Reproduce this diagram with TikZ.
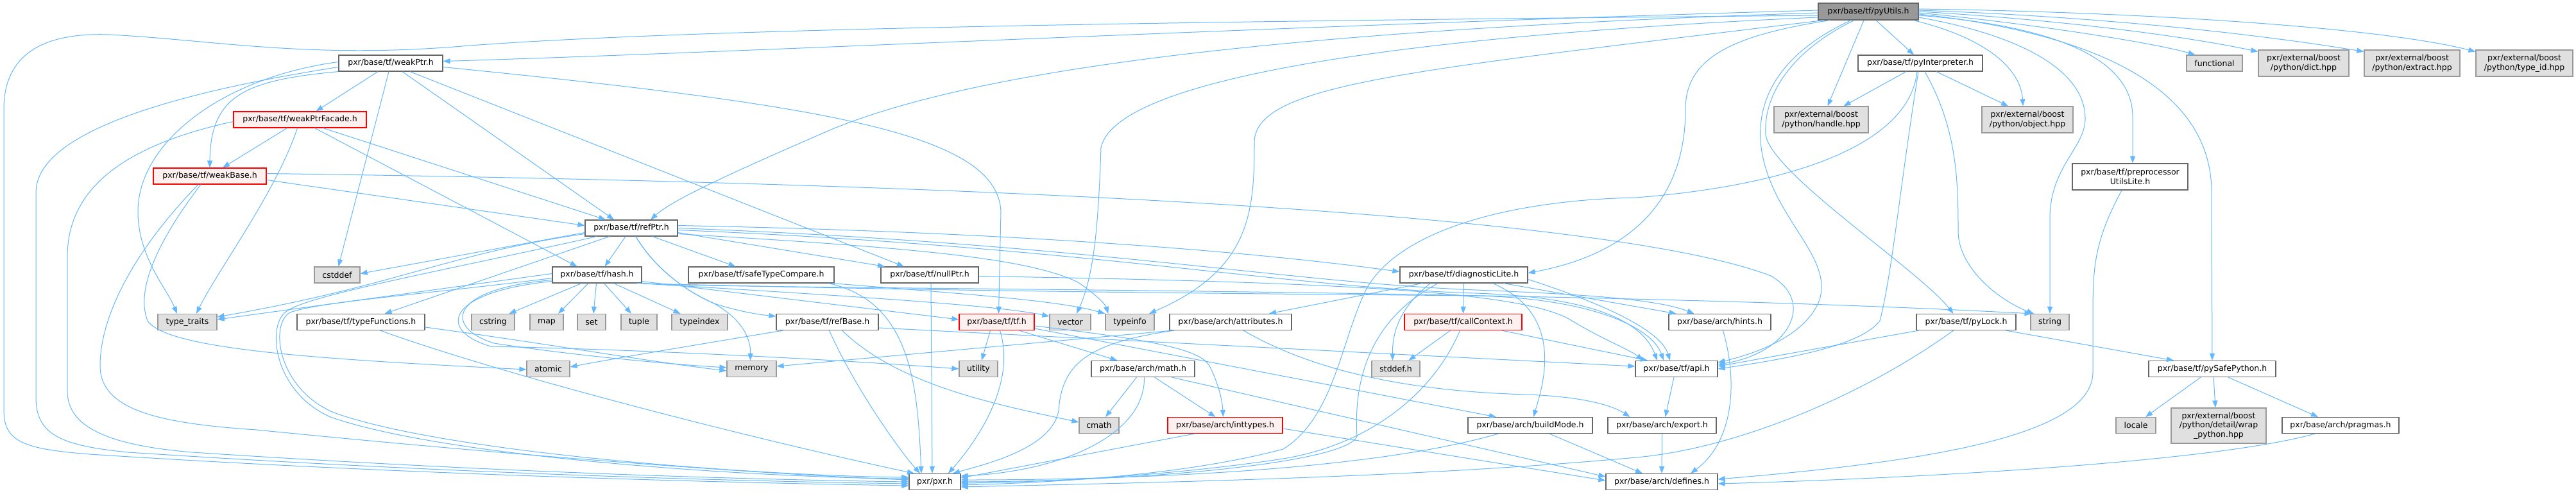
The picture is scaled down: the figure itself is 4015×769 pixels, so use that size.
\documentclass[tikz,border=0pt]{standalone}
\usepackage{fontspec}
\setmainfont{DejaVu Sans}
\usetikzlibrary{arrows.meta}
\definecolor{edgec}{HTML}{63B8FF}
\definecolor{bordc}{HTML}{666666}
\definecolor{sysb}{HTML}{999999}
\definecolor{sysf}{HTML}{E0E0E0}
\definecolor{rootf}{HTML}{999999}
\definecolor{trb}{HTML}{FF0000}
\definecolor{trf}{HTML}{FFF0F0}
\tikzset{
 nd/.style={draw=bordc, fill=white, line width=1.2pt, inner sep=0pt, align=center, font=\fontsize{12.5}{14.5}\selectfont},
 sys/.style={nd, draw=sysb, fill=sysf},
 trunc/.style={nd, draw=trb, fill=trf},
 rootnode/.style={nd, fill=rootf},
 edg/.style={color=edgec, line width=1pt, -{Triangle[length=11pt,width=8pt]}},
}
\begin{document}
\begin{tikzpicture}[x=1pt,y=-1pt]
\fill[white] (0,0) rectangle (4015,769);
\useasboundingbox (0,0) rectangle (4015,769);
% ---------------- nodes
\node[rootnode,minimum width=156pt,minimum height=26pt] (U) at (2912,18) {pxr/base/tf/pyUtils.h};
\node[nd,minimum width=162pt,minimum height=25pt] (wptr) at (609,98.5) {pxr/base/tf/weakPtr.h};
\node[nd,minimum width=194pt,minimum height=25pt] (pyint) at (2993,98.5) {pxr/base/tf/pyInterpreter.h};
\node[sys,minimum width=87pt,minimum height=25pt] (func) at (3451.5,98.5) {functional};
\node[sys,minimum width=141pt,minimum height=41pt] (dict) at (3590.5,98.5) {pxr/external/boost\\/python/dict.hpp};
\node[sys,minimum width=149pt,minimum height=41pt] (extr) at (3759.5,98.5) {pxr/external/boost\\/python/extract.hpp};
\node[sys,minimum width=151pt,minimum height=41pt] (tid) at (3934.5,98.5) {pxr/external/boost\\/python/type\_id.hpp};
\node[trunc,minimum width=207pt,minimum height=25pt] (wfac) at (467.5,186.5) {pxr/base/tf/weakPtrFacade.h};
\node[sys,minimum width=147pt,minimum height=41pt] (handle) at (2838.5,186.5) {pxr/external/boost\\/python/handle.hpp};
\node[sys,minimum width=142pt,minimum height=41pt] (object) at (3160,186.5) {pxr/external/boost\\/python/object.hpp};
\node[trunc,minimum width=176pt,minimum height=25pt] (wbase) at (327,274.5) {pxr/base/tf/weakBase.h};
\node[nd,minimum width=180pt,minimum height=41pt] (ppu) at (3320,275.5) {pxr/base/tf/preprocessor\\UtilsLite.h};
\node[nd,minimum width=144pt,minimum height=25pt] (refptr) at (984,355.5) {pxr/base/tf/refPtr.h};
\node[sys,minimum width=71pt,minimum height=25pt] (cstddef) at (525.5,428.5) {cstddef};
\node[nd,minimum width=139pt,minimum height=25pt] (hash) at (930.5,428.5) {pxr/base/tf/hash.h};
\node[nd,minimum width=227pt,minimum height=25pt] (stc) at (1186.5,428.5) {pxr/base/tf/safeTypeCompare.h};
\node[nd,minimum width=152pt,minimum height=25pt] (nullptr) at (1449,428.5) {pxr/base/tf/nullPtr.h};
\node[nd,minimum width=199pt,minimum height=25pt] (diag) at (2281.5,428.5) {pxr/base/tf/diagnosticLite.h};
\node[sys,minimum width=92pt,minimum height=25pt] (ttraits) at (292,502) {type\_traits};
\node[nd,minimum width=199pt,minimum height=25pt] (tfun) at (562.5,502) {pxr/base/tf/typeFunctions.h};
\node[sys,minimum width=67pt,minimum height=25pt] (cstring) at (768.5,502) {cstring};
\node[sys,minimum width=52pt,minimum height=25pt] (map) at (852,502) {map};
\node[sys,minimum width=44pt,minimum height=25pt] (set) at (922,502) {set};
\node[sys,minimum width=56pt,minimum height=25pt] (tuple) at (996,502) {tuple};
\node[sys,minimum width=87pt,minimum height=25pt] (tindex) at (1090.5,502) {typeindex};
\node[nd,minimum width=159pt,minimum height=25pt] (refbase) at (1289.5,502) {pxr/base/tf/refBase.h};
\node[trunc,minimum width=117pt,minimum height=25pt] (tf) at (1553.5,502) {pxr/base/tf/tf.h};
\node[sys,minimum width=64pt,minimum height=25pt] (vector) at (1668,502) {vector};
\node[sys,minimum width=76pt,minimum height=25pt] (tinfo) at (1761,502) {typeinfo};
\node[nd,minimum width=190pt,minimum height=25pt] (attr) at (1918,502) {pxr/base/arch/attributes.h};
\node[trunc,minimum width=183pt,minimum height=25pt] (callctx) at (2280.5,502) {pxr/base/tf/callContext.h};
\node[nd,minimum width=159pt,minimum height=25pt] (hints) at (2680.5,502) {pxr/base/arch/hints.h};
\node[nd,minimum width=155pt,minimum height=25pt] (pylock) at (3064.5,502) {pxr/base/tf/pyLock.h};
\node[sys,minimum width=60pt,minimum height=25pt] (string) at (3195,502) {string};
\node[sys,minimum width=67pt,minimum height=25pt] (atomic) at (854.5,575) {atomic};
\node[sys,minimum width=77pt,minimum height=25pt] (memory) at (1171.5,575) {memory};
\node[sys,minimum width=60pt,minimum height=25pt] (utility) at (1525,575) {utility};
\node[nd,minimum width=161pt,minimum height=25pt] (math) at (1781.5,575) {pxr/base/arch/math.h};
\node[sys,minimum width=75pt,minimum height=25pt] (stddef) at (2175.5,575) {stddef.h};
\node[nd,minimum width=128pt,minimum height=25pt] (api) at (2613,575) {pxr/base/tf/api.h};
\node[nd,minimum width=198pt,minimum height=25pt] (pysafe) at (3448,575) {pxr/base/tf/pySafePython.h};
\node[sys,minimum width=62pt,minimum height=25pt] (cmath) at (1713,663) {cmath};
\node[trunc,minimum width=179pt,minimum height=25pt] (inttypes) at (1909.5,663) {pxr/base/arch/inttypes.h};
\node[nd,minimum width=194pt,minimum height=25pt] (build) at (2385,663) {pxr/base/arch/buildMode.h};
\node[nd,minimum width=169pt,minimum height=25pt] (export) at (2590.5,663) {pxr/base/arch/export.h};
\node[sys,minimum width=62pt,minimum height=25pt] (locale) at (3329,663) {locale};
\node[sys,minimum width=148pt,minimum height=55pt] (wrap) at (3458,663.5) {pxr/external/boost\\/python/detail/wrap\\\_python.hpp};
\node[nd,minimum width=182pt,minimum height=25pt] (pragmas) at (3648,663) {pxr/base/arch/pragmas.h};
\node[nd,minimum width=80pt,minimum height=25pt] (pxr) at (1457,751) {pxr/pxr.h};
\node[nd,minimum width=174pt,minimum height=25pt] (defines) at (2590,751) {pxr/base/arch/defines.h};
% ---------------- edges from pyUtils.h
\draw[edg] ([yshift=-6pt]U.west) .. controls (2000,32) and (1100,42) .. (720,72) .. controls (480,92) and (330,62) .. (170,54) .. controls (60,50) and (6,90) .. (6,170) -- (6,640) .. controls (6,690) and (40,700) .. (140,708) .. controls (600,738) and (1100,752) .. ([yshift=-6pt]pxr.west);
\draw[edg] ([yshift=2pt]U.west) .. controls (2000,40) and (1200,80) .. ([yshift=3pt]wptr.east);
\draw[edg] ([yshift=-2pt]U.west) .. controls (1900,50) and (1500,120) .. (1300,200) .. controls (1150,265) and (1050,310) .. ([xshift=30pt]refptr.north);
\draw[edg] ([yshift=-9pt]U.west) .. controls (2200,55) and (1740,120) .. (1716,230) .. controls (1712,350) and (1705,430) .. ([xshift=10pt]vector.north);
\draw[edg] ([xshift=-70pt]U.south) .. controls (2200,110) and (1960,130) .. (1955,220) .. controls (1955,330) and (1950,420) .. ([xshift=30pt]tinfo.north);
\draw[edg] ([xshift=-60pt]U.south) .. controls (2700,55) and (2627,90) .. (2627,170) .. controls (2627,330) and (2520,400) .. ([yshift=3pt]diag.east);
\draw[edg] ([xshift=-27pt]U.south) .. controls (2780,80) and (2735,150) .. (2745,230) .. controls (2760,340) and (2860,400) .. (2835,470) .. controls (2810,530) and (2720,555) .. ([yshift=10pt]api.east);
\draw[edg] ([xshift=-22pt]U.south) .. controls (2790,80) and (2748,150) .. (2752,210) .. controls (2760,270) and (2990,420) .. ([xshift=-20pt]pylock.north);
\draw[edg] ([xshift=-7pt]U.south) -- ([xshift=10pt]handle.north);
\draw[edg] ([xshift=12pt]U.south) -- ([xshift=-10pt]pyint.north);
\draw[edg] ([xshift=70pt]U.south) .. controls (3100,60) and (3150,110) .. ([xshift=-7pt]object.north);
\draw[edg] ([yshift=-9pt]U.east) .. controls (3150,55) and (3250,110) .. (3250,185) .. controls (3250,230) and (3195,260) .. (3195,340) -- (string.north);
\draw[edg] ([yshift=-6pt]U.east) .. controls (3200,40) and (3322,90) .. (3324,180) -- ([xshift=4pt]ppu.north);
\draw[edg] ([yshift=-4pt]U.east) .. controls (3250,50) and (3447,130) .. (3447,300) -- (pysafe.north);
\draw[edg] ([yshift=-2pt]U.east) .. controls (3150,35) and (3350,65) .. ([xshift=-30pt]func.north);
\draw[edg] (U.east) .. controls (3200,30) and (3400,55) .. ([yshift=18pt]dict.west);
\draw[edg] ([yshift=2pt]U.east) .. controls (3250,25) and (3500,50) .. ([yshift=18pt]extr.west);
\draw[edg] ([yshift=4pt]U.east) .. controls (3300,18) and (3700,40) .. ([yshift=18pt]tid.west);
% ---------------- weakPtr.h
\draw[edg] ([yshift=-6pt]wptr.west) .. controls (300,140) and (56,200) .. (56,300) -- (56,620) .. controls (56,680) and (100,695) .. (200,705) .. controls (700,738) and (1150,750) .. ([yshift=-3pt]pxr.west);
\draw[edg] ([yshift=2pt]wptr.west) .. controls (350,120) and (215,220) .. (215,330) .. controls (215,400) and (260,450) .. ([xshift=-16pt]ttraits.north);
\draw[edg] (wptr.south west) .. controls (380,125) and (328,150) .. (wbase.north);
\draw[edg] ([xshift=-20pt]wptr.south) -- ([xshift=25pt]wfac.north);
\draw[edg] ([xshift=-3pt]wptr.south) -- ([xshift=2pt]cstddef.north);
\draw[edg] ([xshift=18pt]wptr.south) -- ([xshift=-27pt]refptr.north);
\draw[edg] ([xshift=30pt]wptr.south) -- ([xshift=-40pt]nullptr.north);
\draw[edg] ([yshift=-6pt]wptr.east) .. controls (1300,165) and (1555,210) .. (1560,330) -- ([xshift=3pt]tf.north);
% ---------------- weakPtrFacade.h
\draw[edg] ([yshift=-3pt]wfac.west) .. controls (200,225) and (105,290) .. (105,400) -- (105,610) .. controls (105,670) and (180,695) .. (300,705) .. controls (800,738) and (1200,748) .. (pxr.west);
\draw[edg] ([xshift=-20pt]wfac.south) -- ([xshift=20pt]wbase.north);
\draw[edg] ([xshift=-4pt]wfac.south) .. controls (430,300) and (340,420) .. ([xshift=14pt]ttraits.north);
\draw[edg] ([xshift=23pt]wfac.south) -- ([xshift=-31pt]hash.north);
\draw[edg] ([xshift=36pt]wfac.south) -- ([xshift=-40pt]refptr.north);
% ---------------- weakBase.h
\draw[edg] ([xshift=-18pt]wbase.south) .. controls (200,400) and (156,500) .. (156,570) .. controls (156,640) and (250,660) .. (400,670) .. controls (800,710) and (1200,740) .. ([yshift=3pt]pxr.west);
\draw[edg] ([xshift=-14pt]wbase.south) .. controls (250,370) and (210,450) .. (230,500) .. controls (260,545) and (500,560) .. ([yshift=-1pt]atomic.west);
\draw[edg] ([yshift=-6pt]wbase.east) -- ([yshift=4pt]refptr.west);
\draw[edg] ([yshift=4pt]wbase.east) .. controls (1500,285) and (2500,330) .. (2760,430) .. controls (2830,470) and (2790,550) .. ([yshift=7pt]api.east);
% ---------------- refPtr.h
\draw[edg] ([xshift=-9pt]refptr.south) -- ([xshift=12pt]hash.north);
\draw[edg] ([xshift=33pt]refptr.south) -- ([xshift=-40pt]stc.north);
\draw[edg] ([yshift=-7pt]refptr.east) -- ([xshift=-70pt]nullptr.north);
\draw[edg] ([xshift=7pt]refptr.south) .. controls (1015,410) and (1060,450) .. (1113,473) .. controls (1150,485) and (1180,490) .. ([yshift=9pt]refbase.west);
\draw[edg] ([xshift=7pt]refptr.south) .. controls (1015,410) and (1060,450) .. (1113,473) .. controls (1160,500) and (1170,530) .. ([xshift=-2pt]memory.north);
\draw[edg] ([xshift=-34pt]refptr.south) -- ([xshift=37pt]tfun.north);
\draw[edg] ([yshift=-7pt]refptr.west) -- ([yshift=2pt]cstddef.east);
\draw[edg] ([yshift=-9pt]refptr.west) .. controls (700,395) and (620,445) .. ([yshift=8pt]ttraits.east);
\draw[edg] ([xshift=-54pt]refptr.south) .. controls (700,420) and (480,460) .. (447,485) .. controls (415,505) and (425,610) .. (515,650) .. controls (700,715) and (1200,745) .. ([yshift=5pt]pxr.west);
\draw[edg] ([yshift=4pt]refptr.east) .. controls (1500,360) and (1900,385) .. ([yshift=5pt]diag.west);
\draw[edg] (refptr.east) .. controls (1700,380) and (2000,440) .. (2300,452) .. controls (2450,458) and (2580,465) .. ([xshift=-40pt]hints.north);
\draw[edg] ([yshift=-3pt]refptr.east) .. controls (1700,385) and (2000,448) .. (2300,457) .. controls (2480,463) and (2560,500) .. ([xshift=-30pt]api.north);
\draw[edg] ([yshift=-9pt]refptr.east) .. controls (1400,385) and (1600,400) .. (1680,440) .. controls (1710,460) and (1723,475) .. ([xshift=5pt]tinfo.north west);
% ---------------- hash.h
\draw[edg] ([xshift=-24pt]hash.south) -- ([xshift=25pt]cstring.north);
\draw[edg] ([xshift=-13.5pt]hash.south) -- ([xshift=18pt]map.north);
\draw[edg] ([xshift=-1pt]hash.south) -- ([xshift=3pt]set.north);
\draw[edg] ([xshift=11pt]hash.south) -- ([xshift=-12pt]tuple.north);
\draw[edg] ([xshift=26pt]hash.south) -- ([xshift=-30pt]tindex.north);
\draw[edg] ([yshift=2pt]hash.west) -- ([yshift=4pt]ttraits.east);
\draw[edg] ([yshift=-5pt]hash.west) .. controls (650,460) and (500,470) .. (452,487) .. controls (420,505) and (432,605) .. (520,643) .. controls (700,708) and (1200,742) .. ([yshift=7pt]pxr.west);
\draw[edg] ([yshift=-8pt]hash.west) .. controls (700,450) and (690,510) .. (770,535) .. controls (900,555) and (1050,568) .. ([yshift=2pt]memory.west);
\draw[edg] ([yshift=-10pt]hash.west) .. controls (695,455) and (680,515) .. (765,540) .. controls (1000,545) and (1300,560) .. (utility.west);
\draw[edg] ([yshift=-10pt]hash.east) -- ([yshift=4pt]tf.west);
\draw[edg] ([xshift=-4pt]hash.south east) .. controls (1300,460) and (1550,475) .. ([yshift=9pt]vector.west);
\draw[edg] (hash.south east) .. controls (1150,452) and (2400,448) .. ([xshift=2pt]string.north west);
\draw[edg] ([xshift=-8pt]hash.south east) .. controls (1500,455) and (2000,458) .. (2300,461) .. controls (2480,465) and (2575,510) .. ([xshift=-20pt]api.north);
% ---------------- typeFunctions.h, safeTypeCompare.h, nullPtr.h
\draw[edg] ([xshift=30pt]tfun.south) .. controls (800,590) and (1200,690) .. ([xshift=-32pt]pxr.north);
\draw[edg] ([yshift=-8pt]tfun.east) .. controls (850,535) and (1000,562) .. ([yshift=-3pt]memory.west);
\draw[edg] ([xshift=105pt]stc.south) .. controls (1420,470) and (1430,600) .. ([xshift=-21pt]pxr.north);
\draw[edg] ([xshift=-3pt]stc.south east) .. controls (1500,458) and (1650,468) .. (tinfo.north west);
\draw[edg] ([xshift=2pt]nullptr.south) -- ([xshift=-4pt]pxr.north);
\draw[edg] ([yshift=-2pt]nullptr.east) .. controls (2100,440) and (2380,455) .. (2450,500) .. controls (2500,530) and (2540,545) .. ([xshift=-52pt]api.north);
% ---------------- refBase.h
\draw[edg] ([xshift=-69pt]refbase.south) .. controls (1100,535) and (950,560) .. ([yshift=3pt]atomic.east);
\draw[edg] ([xshift=3pt]refbase.south) .. controls (1330,600) and (1400,700) .. ([xshift=-23pt]pxr.north);
\draw[edg] ([xshift=23pt]refbase.south) .. controls (1400,600) and (1550,630) .. ([yshift=5pt]cmath.west);
\draw[edg] ([yshift=-9pt]refbase.east) -- ([yshift=4pt]api.west);
% ---------------- tf.h
\draw[edg] ([xshift=-10pt]tf.south) -- ([xshift=5pt]utility.north);
\draw[edg] ([xshift=5pt]tf.south) .. controls (1585,600) and (1520,690) .. ([xshift=21pt]pxr.north);
\draw[edg] ([xshift=35pt]tf.south) -- ([xshift=-40pt]math.north);
\draw[edg] ([yshift=-6pt]tf.east) .. controls (1800,530) and (1870,545) .. (1885,570) .. controls (1900,600) and (1905,625) .. ([xshift=-3pt]inttypes.north);
\draw[edg] ([yshift=-10pt]tf.east) -- ([xshift=-53pt]build.north);
% ---------------- math.h, inttypes.h
\draw[edg] ([xshift=-10pt]math.south) -- ([xshift=10pt]cmath.north);
\draw[edg] ([xshift=2pt]math.south) .. controls (1785,680) and (1650,735) .. ([yshift=9pt]pxr.east);
\draw[edg] ([xshift=18pt]math.south) -- ([xshift=-15pt]inttypes.north);
\draw[edg] ([xshift=45pt]math.south) -- ([yshift=8pt]defines.west);
\draw[edg] ([xshift=-48pt]inttypes.south) -- ([yshift=6pt]pxr.east);
\draw[edg] ([yshift=-5pt]inttypes.east) -- ([yshift=2pt]defines.west);
% ---------------- attributes.h
\draw[edg] ([xshift=-88pt]attr.south) .. controls (1690,535) and (1655,570) .. (1650,640) .. controls (1640,700) and (1530,725) .. ([xshift=28pt]pxr.north);
\draw[edg] ([xshift=-90pt]attr.south) -- ([yshift=4pt]memory.east);
\draw[edg] ([xshift=20pt]attr.south) .. controls (2050,580) and (2200,610) .. (2380,615) .. controls (2460,618) and (2510,630) .. ([xshift=-50pt]export.north);
% ---------------- diagnosticLite.h
\draw[edg] (diag.south) -- (callctx.north);
\draw[edg] ([xshift=-65pt]diag.south) -- ([xshift=60pt]attr.north);
\draw[edg] ([xshift=-40pt]diag.south) .. controls (2130,500) and (2110,600) .. (2115,680) .. controls (2100,720) and (1800,750) .. (pxr.east);
\draw[edg] ([xshift=-52pt]diag.south) .. controls (2180,480) and (2170,520) .. ([xshift=-5pt]stddef.north);
\draw[edg] ([xshift=45pt]diag.south) .. controls (2440,490) and (2405,600) .. ([xshift=5pt]build.north);
\draw[edg] ([xshift=62pt]diag.south) -- ([xshift=-68pt]hints.north);
\draw[edg] ([yshift=-7pt]diag.east) .. controls (2520,480) and (2590,520) .. ([xshift=-10pt]api.north);
% ---------------- callContext.h
\draw[edg] ([xshift=-20pt]callctx.south) -- ([xshift=20pt]stddef.north);
\draw[edg] ([xshift=-5pt]callctx.south) .. controls (2240,600) and (2150,690) .. (2000,715) .. controls (1800,745) and (1600,752) .. ([yshift=-2pt]pxr.east);
\draw[edg] ([xshift=60pt]callctx.south) -- ([xshift=-45pt]api.north);
% ---------------- arch
\draw[edg] ([xshift=30pt]build.south) -- ([xshift=-30pt]defines.north);
\draw[edg] ([xshift=-50pt]build.south) .. controls (2150,730) and (1800,748) .. ([yshift=3pt]pxr.east);
\draw[edg] ([xshift=5pt]hints.south) .. controls (2710,600) and (2700,690) .. ([xshift=45pt]defines.north);
\draw[edg] ([xshift=-4pt]api.south) -- ([xshift=5pt]export.north);
\draw[edg] (export.south) -- (defines.north);
% ---------------- pyInterpreter.h
\draw[edg] ([xshift=-22pt]pyint.south) -- ([xshift=35pt]handle.north);
\draw[edg] ([xshift=25pt]pyint.south) -- ([xshift=-30pt]object.north);
\draw[edg] ([xshift=-5pt]pyint.south) .. controls (2975,230) and (2780,290) .. (2550,308) .. controls (2350,312) and (2180,360) .. (2130,450) .. controls (2090,530) and (2080,650) .. (2000,700) .. controls (1850,740) and (1650,752) .. ([yshift=-5pt]pxr.east);
\draw[edg] ([xshift=-3pt]pyint.south) .. controls (2960,300) and (2950,420) .. (2930,500) .. controls (2900,540) and (2780,560) .. (api.east);
\draw[edg] ([xshift=7pt]pyint.south) .. controls (3050,200) and (3052,280) .. (3052,360) .. controls (3052,420) and (3120,470) .. ([xshift=-25pt]string.north);
% ---------------- pyLock.h
\draw[edg] ([xshift=-74pt]pylock.south) -- ([yshift=4pt]api.east);
\draw[edg] ([xshift=-20pt]pylock.south) .. controls (2900,620) and (2700,700) .. (2550,713) .. controls (2200,745) and (1800,752) .. ([yshift=-8pt]pxr.east);
\draw[edg] ([xshift=62pt]pylock.south) -- ([xshift=-60pt]pysafe.north);
% ---------------- pySafePython.h, pragmas.h, preprocessorUtilsLite.h
\draw[edg] ([xshift=-18pt]pysafe.south) -- ([xshift=15pt]locale.north);
\draw[edg] ([xshift=2pt]pysafe.south) -- ([xshift=-5pt]wrap.north);
\draw[edg] ([xshift=25pt]pysafe.south) -- ([xshift=-35pt]pragmas.north);
\draw[edg] ([xshift=-40pt]pragmas.south) .. controls (3450,720) and (3000,745) .. ([yshift=-3pt]defines.east);
\draw[edg] ([xshift=-13pt]ppu.south) .. controls (3262,380) and (3262,420) .. (3262,500) -- (3262,580) .. controls (3262,680) and (3000,720) .. ([yshift=4pt]defines.east);
\end{tikzpicture}
\end{document}
